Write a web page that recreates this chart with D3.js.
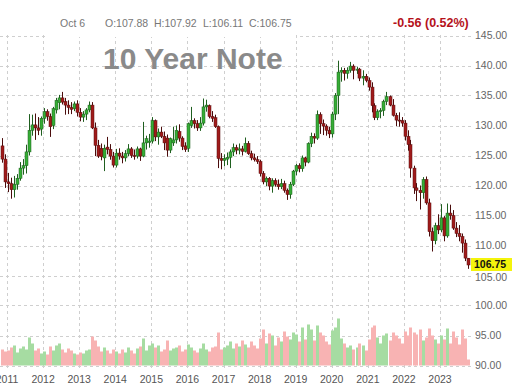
<!DOCTYPE html>
<html><head><meta charset="utf-8">
<script src="https://cdn.jsdelivr.net/npm/d3@7"></script>
<style>html,body{margin:0;padding:0;background:#fff;overflow:hidden}svg{display:block;font-family:Arial,"Liberation Sans",sans-serif}</style>
</head><body><svg id="c" width="512" height="390"></svg>
<script>
// ---- data (monthly candles, 10 Year T-Note) ----
const months = [
 "2010-11","2010-12",
 "2011-01","2011-02","2011-03","2011-04","2011-05","2011-06","2011-07","2011-08","2011-09","2011-10","2011-11","2011-12",
 "2012-01","2012-02","2012-03","2012-04","2012-05","2012-06","2012-07","2012-08","2012-09","2012-10","2012-11","2012-12",
 "2013-01","2013-02","2013-03","2013-04","2013-05","2013-06","2013-07","2013-08","2013-09","2013-10","2013-11","2013-12",
 "2014-01","2014-02","2014-03","2014-04","2014-05","2014-06","2014-07","2014-08","2014-09","2014-10","2014-11","2014-12",
 "2015-01","2015-02","2015-03","2015-04","2015-05","2015-06","2015-07","2015-08","2015-09","2015-10","2015-11","2015-12",
 "2016-01","2016-02","2016-03","2016-04","2016-05","2016-06","2016-07","2016-08","2016-09","2016-10","2016-11","2016-12",
 "2017-01","2017-02","2017-03","2017-04","2017-05","2017-06","2017-07","2017-08","2017-09","2017-10","2017-11","2017-12",
 "2018-01","2018-02","2018-03","2018-04","2018-05","2018-06","2018-07","2018-08","2018-09","2018-10","2018-11","2018-12",
 "2019-01","2019-02","2019-03","2019-04","2019-05","2019-06","2019-07","2019-08","2019-09","2019-10","2019-11","2019-12",
 "2020-01","2020-02","2020-03","2020-04","2020-05","2020-06","2020-07","2020-08","2020-09","2020-10","2020-11","2020-12",
 "2021-01","2021-02","2021-03","2021-04","2021-05","2021-06","2021-07","2021-08","2021-09","2021-10","2021-11","2021-12",
 "2022-01","2022-02","2022-03","2022-04","2022-05","2022-06","2022-07","2022-08","2022-09","2022-10","2022-11","2022-12",
 "2023-01","2023-02","2023-03","2023-04","2023-05","2023-06","2023-07","2023-08","2023-09","2023-10"
];
const open = [
 126.6,124.4,
 120.6,120.3,119.3,120.2,121.2,122.9,123.3,125.6,129.2,130.1,129.6,129.4,
 131.2,132.3,131.5,130.0,132.6,133.8,134.6,134.0,133.4,133.0,132.8,133.6,
 132.2,131.4,131.9,132.6,133.4,129.6,126.7,126.2,124.6,126.4,126.0,124.9,
 123.4,125.4,124.9,124.6,125.3,126.1,125.0,124.9,126.1,124.9,127.1,127.2,
 127.4,130.8,128.1,128.9,128.2,127.9,125.9,127.1,127.6,129.0,127.9,126.6,
 126.2,130.0,130.8,130.3,129.6,130.4,133.1,133.3,131.5,131.3,129.8,124.5,
 124.2,124.4,124.7,125.6,126.3,125.9,126.1,125.7,127.0,125.3,124.6,124.3,
 124.0,122.0,120.6,121.2,119.9,120.8,120.2,119.8,120.3,119.2,118.5,120.2,
 122.4,123.3,122.8,124.6,123.9,127.0,128.2,127.9,131.8,130.3,129.9,129.2,
 128.6,131.9,135.0,138.9,139.2,138.7,139.2,139.9,139.2,139.4,137.9,138.2,
 137.5,136.4,133.3,131.3,132.3,132.5,134.0,134.8,133.4,131.7,130.9,130.8,
 130.4,128.2,126.8,122.9,119.6,119.2,118.8,121.0,117.1,112.3,110.8,113.3,
 112.6,114.6,111.6,115.4,115.0,112.9,112.0,111.5,110.4,107.88
];
const high = [
 127.9,125.2,
 122.1,121.3,121.6,121.9,123.9,124.4,126.8,131.9,131.8,132.0,131.4,131.5,
 132.9,132.7,132.0,133.1,134.6,135.1,135.6,134.6,134.2,133.9,134.0,134.2,
 132.9,132.4,132.9,134.0,133.9,130.5,127.6,127.0,126.8,128.1,126.9,125.6,
 126.1,126.2,125.6,125.9,126.9,126.4,126.0,126.5,126.3,130.6,128.3,128.6,
 131.4,131.0,129.5,129.8,129.0,128.5,128.0,129.8,130.0,130.2,128.2,127.2,
 130.5,133.1,131.2,130.9,131.4,134.5,134.3,133.5,132.4,131.8,130.0,125.4,
 125.2,125.5,126.0,127.0,126.8,127.0,126.6,128.0,127.4,125.8,125.3,124.9,
 124.3,122.4,121.5,121.4,121.2,121.2,121.0,121.1,120.8,119.5,120.6,122.6,
 123.6,123.7,125.0,124.8,127.2,128.8,128.7,132.5,132.2,131.0,130.2,129.8,
 132.3,135.4,140.8,139.7,139.6,139.7,140.6,140.2,139.8,139.6,139.2,138.6,
 138.0,137.2,133.7,132.7,132.9,134.3,135.6,135.0,134.4,132.1,132.2,131.4,
 130.9,129.2,127.6,123.3,120.4,120.0,121.4,121.5,117.8,113.0,113.8,115.2,
 116.9,114.9,117.0,116.8,115.9,113.9,113.4,112.0,111.0,107.92
];
const low = [
 123.8,119.6,
 118.9,117.8,118.0,119.3,120.8,121.8,122.0,125.0,128.3,127.6,128.4,128.3,
 130.3,130.8,128.1,129.4,132.0,132.7,133.5,131.8,131.9,131.9,132.4,131.5,
 130.7,130.6,130.9,132.2,129.4,124.9,124.6,124.2,122.4,125.2,124.3,123.0,
 123.0,124.3,123.7,124.0,124.9,124.6,124.3,124.5,124.1,124.7,126.0,126.3,
 127.0,127.4,126.8,127.9,125.9,124.8,125.4,126.6,127.0,127.3,125.9,125.6,
 125.6,129.6,129.5,129.1,129.1,130.0,132.3,131.2,130.6,129.6,122.9,122.7,
 123.2,123.4,122.9,124.9,125.2,125.2,125.0,125.5,125.1,124.2,124.0,123.6,
 121.5,120.2,119.9,119.2,118.8,119.8,119.3,119.4,118.8,117.6,117.8,119.9,
 121.7,122.2,122.3,123.2,123.7,126.4,127.0,127.6,128.6,128.4,128.3,127.9,
 128.0,130.9,131.9,137.3,137.5,137.8,138.8,137.7,138.6,137.4,136.7,137.2,
 135.8,132.2,130.9,130.9,131.2,131.6,133.4,133.2,131.5,129.9,129.8,129.8,
 127.5,125.8,121.3,118.6,117.4,116.0,117.8,116.8,111.5,109.0,110.2,111.9,
 112.2,110.7,111.3,114.3,112.6,111.4,110.7,108.8,107.4,106.11
];
const close = [
 124.4,120.6,
 120.3,119.3,120.2,121.2,122.9,123.3,125.6,129.2,130.1,129.6,129.2,131.2,
 132.3,131.5,129.8,132.8,134.2,134.6,133.9,133.4,133.0,132.7,133.6,132.2,
 131.4,131.9,132.6,133.4,129.6,126.7,124.9,124.8,126.2,126.0,124.9,123.4,
 125.4,124.9,124.6,125.3,126.1,125.0,124.9,126.1,124.9,127.1,127.8,127.4,
 130.8,128.1,128.9,128.2,127.1,125.9,127.8,127.6,129.2,127.9,126.5,126.0,
 130.3,130.8,130.3,129.6,130.4,133.1,133.4,131.5,131.2,129.8,124.5,124.2,
 124.5,124.7,125.6,126.3,125.9,126.1,125.7,127.0,125.3,124.6,124.3,124.0,
 122.0,120.6,121.2,119.9,120.8,120.2,119.8,120.3,119.2,118.5,120.2,122.4,
 123.3,122.8,124.6,123.9,127.0,128.2,127.9,131.8,130.3,129.9,129.2,128.6,
 131.9,135.0,138.9,139.2,138.7,139.2,139.9,139.2,139.4,137.9,138.2,137.5,
 136.4,133.3,131.3,132.3,132.5,134.0,134.8,133.4,131.7,130.9,130.8,130.4,
 128.2,126.8,122.9,119.6,119.2,118.8,121.0,117.1,112.3,110.8,113.3,112.6,
 114.6,111.6,115.4,115.0,112.9,112.0,111.5,110.4,107.9,106.75
];
const volume = [
 16,14,
 15,18,20,13,17,19,16,28,22,15,17,12,
 14,11,19,15,20,22,16,13,17,15,12,11,
 13,12,15,16,29,25,19,14,18,15,12,16,
 14,12,16,13,18,15,12,17,19,27,15,20,
 22,18,20,14,16,25,15,17,18,20,14,16,
 21,18,15,13,17,22,16,14,18,19,33,16,
 18,20,24,17,22,19,25,21,18,24,20,17,
 27,36,22,32,30,20,28,24,34,29,26,33,
 31,24,38,26,41,36,25,40,33,30,24,21,
 35,38,47,27,22,18,20,16,18,22,20,15,
 26,38,40,28,22,30,32,25,33,30,27,22,
 34,30,38,33,31,36,25,28,37,30,26,22,
 30,26,37,22,34,28,21,36,27,6
];
const priceTicks = [90,95,100,105,110,115,120,125,130,135,140,145];
const yearTicks = [2011,2012,2013,2014,2015,2016,2017,2018,2019,2020,2021,2022,2023];
const titleText = "10 Year Note";
const dateText = "Oct 6";
const ohlcLabels = ["O:107.88","H:107.92","L:106.11","C:106.75"];
const changeText = "-0.56 (0.52%)";
const lastPrice = 106.75;

// ---- drawing ----
const svg = d3.select("#c");
svg.append("rect").attr("width",512).attr("height",390).attr("fill","#fff");

const parse = d3.timeParse("%Y-%m");
const dates = months.map(m => { const d = parse(m); return new Date(d.getFullYear(), d.getMonth(), 8); });
const x = d3.scaleTime().domain([new Date(2011,0,1), new Date(2023,0,1)]).range([7, 440]);
const y = d3.scaleLinear().domain([90,145]).range([365.5,35.5]);
const vScale = d3.scaleLinear().domain([0,60]).range([0,60]);

const grid = svg.append("g").attr("stroke","#cfcfcf").attr("stroke-dasharray","3,3").attr("stroke-width",1);
grid.selectAll(".h").data(priceTicks).join("line")
  .attr("x1",0).attr("x2",471).attr("y1",d=>Math.round(y(d))+0.5).attr("y2",d=>Math.round(y(d))+0.5);
grid.selectAll(".v").data(yearTicks).join("line")
  .attr("x1",d=>Math.round(x(new Date(d,0,1)))+0.5).attr("x2",d=>Math.round(x(new Date(d,0,1)))+0.5)
  .attr("y1",35).attr("y2",368);

const data = months.map((m,i)=>({d:dates[i],o:open[i],h:high[i],l:low[i],c:close[i],v:volume[i]}));

// volume
svg.append("g").selectAll("rect").data(data).join("rect")
  .attr("x", d=>Math.round(x(d.d))-1)
  .attr("width", 3)
  .attr("y", d=>365.5 - vScale(d.v))
  .attr("height", d=>vScale(d.v))
  .attr("fill", d=> d.c>=d.o ? "#a6dca2" : "#f8b3b3");

// candles
const cg = svg.append("g");
cg.selectAll("line").data(data).join("line")
  .attr("x1", d=>Math.round(x(d.d))+0.5).attr("x2", d=>Math.round(x(d.d))+0.5)
  .attr("y1", d=>y(d.h)).attr("y2", d=>y(d.l))
  .attr("stroke", d=> d.c>=d.o ? "#1f5f1f" : "#4a0c0c").attr("stroke-width",1);
cg.selectAll("rect").data(data).join("rect")
  .attr("x", d=>Math.round(x(d.d))-1)
  .attr("width", 3)
  .attr("y", d=>y(Math.max(d.o,d.c)))
  .attr("height", d=>Math.max(1, Math.abs(y(d.o)-y(d.c))))
  .attr("fill", d=> d.c>=d.o ? "#36ad36" : "#a01b1b")
  .attr("stroke", d=> d.c>=d.o ? "#1f5f1f" : "#5a0e0e").attr("stroke-width",0.5);

// right axis labels
svg.append("g").selectAll("text").data(priceTicks).join("text")
  .attr("x",475).attr("y",d=>y(d) + (d===105 ? 1.5 : 0)).attr("dy","0.35em")
  .attr("font-size",10.5).attr("fill","#666").text(d=>d3.format(".2f")(d));

// last price label
const ly = y(lastPrice);
svg.append("rect").attr("x",471).attr("y",ly-7).attr("width",41).attr("height",13).attr("fill","#f4f40c");
svg.append("text").attr("x",474).attr("y",ly-0.5).attr("dy","0.35em").attr("font-size",10.5).attr("font-weight","bold").attr("fill","#111").text(d3.format(".2f")(lastPrice));

// x axis labels
svg.append("g").selectAll("text").data(yearTicks).join("text")
  .attr("x",d=>x(new Date(d,0,1))).attr("y",383).attr("text-anchor","middle")
  .attr("font-size",10.5).attr("fill","#555").text(d=>d);

// header
svg.append("rect").attr("x",48).attr("y",10).attr("width",248).attr("height",27).attr("fill","#fff");
svg.append("text").attr("x",60).attr("y",27).attr("font-size",10.5).attr("fill","#777").text(dateText);
const ohlcX = [105,154,203,249];
svg.append("g").selectAll("text").data(ohlcLabels).join("text")
  .attr("x",(d,i)=>ohlcX[i]).attr("y",27).attr("font-size",10.5).attr("fill","#777").text(d=>d);
svg.append("text").attr("x",393).attr("y",27).attr("font-size",12.5).attr("font-weight","bold").attr("fill","#b5121b").text(changeText);
svg.append("text").attr("x",103).attr("y",69).attr("font-size",30).attr("font-weight","bold").attr("fill","#8a8a8a").text(titleText);
</script></body></html>
